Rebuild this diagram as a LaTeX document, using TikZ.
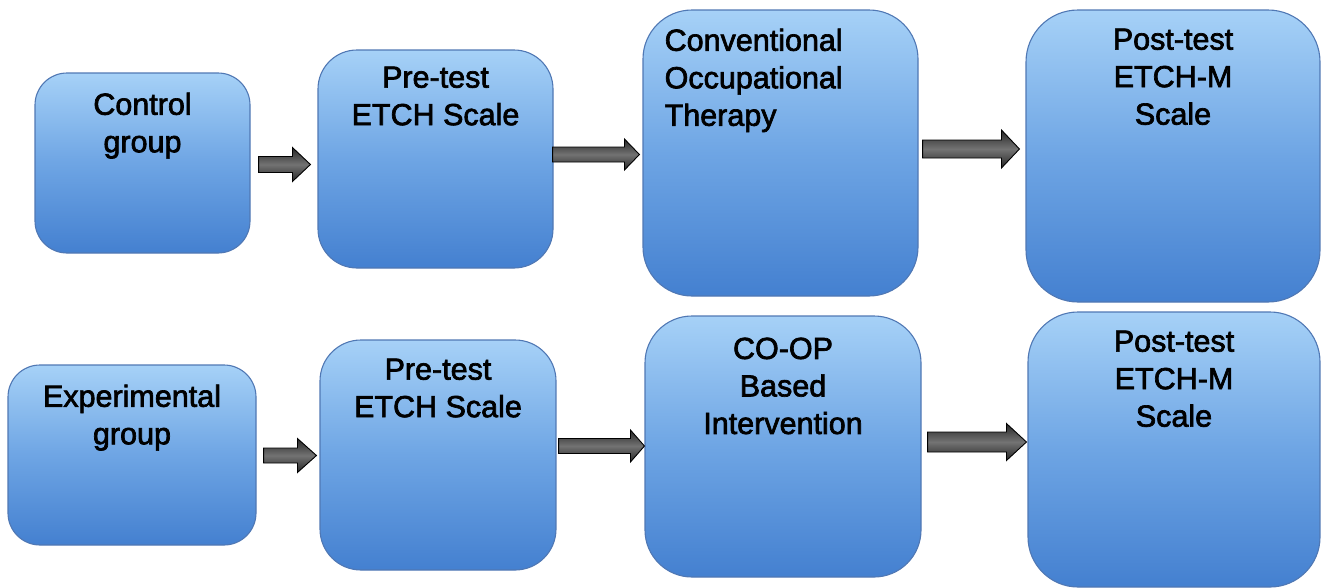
\documentclass[tikz,border=0pt]{standalone}
\usepackage{fontspec}
\setmainfont{Liberation Sans}[FakeBold=2.2]
\usetikzlibrary{calc}
\definecolor{boxtop}{RGB}{166,209,247}
\definecolor{boxmid}{RGB}{110,165,228}
\definecolor{boxbot}{RGB}{68,128,208}
\definecolor{boxedge}{RGB}{80,120,180}
\newcommand\blockarr[5]{%
  \path[blockarrow] ($(#1)+(0,-#3)$) -- ($(#2)+(-#5,-#3)$) -- ($(#2)+(-#5,-#4)$)
    -- (#2) -- ($(#2)+(-#5,#4)$) -- ($(#2)+(-#5,#3)$) -- ($(#1)+(0,#3)$) -- cycle;}
\begin{document}
\begin{tikzpicture}[x=1pt,y=-1pt,
  flowbox/.style={draw=boxedge, line width=1.1pt, inner sep=0pt,
    top color=boxtop, bottom color=boxbot, middle color=boxmid},
  txt/.style={inner sep=0pt, align=center, text=black,
    font={\fontsize{30.5}{37.5}\selectfont}},
  blockarrow/.style={draw=black, line width=0.9pt, line join=miter,
    top color=black!85, bottom color=black!85, middle color=black!55}]
\useasboundingbox (0,0) rectangle (1321,587);
% top row
\node[flowbox, minimum width=215, minimum height=180, rounded corners=32] (ctl) at (142.5,163) {};
\node[flowbox, minimum width=235, minimum height=218, rounded corners=39] (pre1) at (435.5,159) {};
\node[flowbox, minimum width=275, minimum height=286, rounded corners=49] (cot) at (780.5,153) {};
\node[flowbox, minimum width=294, minimum height=292, rounded corners=52] (post1) at (1173,156) {};
% bottom row
\node[flowbox, minimum width=248, minimum height=180, rounded corners=32] (exp) at (132,455) {};
\node[flowbox, minimum width=236, minimum height=230, rounded corners=41] (pre2) at (438,455) {};
\node[flowbox, minimum width=276, minimum height=261, rounded corners=47] (coop) at (783,446.5) {};
\node[flowbox, minimum width=292, minimum height=275, rounded corners=50] (post2) at (1174,449.5) {};
% texts
\node[txt, anchor=north] (ctlT) at ([yshift=-20]ctl.north) {Control\\group};
\node[txt, anchor=north] (pre1T) at ([yshift=-17]pre1.north) {Pre-test\\ETCH Scale};
\node[txt, anchor=north west, align=left] (cotT) at ([xshift=22,yshift=-19]cot.north west) {Conventional\\Occupational\\Therapy};
\node[txt, anchor=north] (post1T) at ([yshift=-19]post1.north) {Post-test\\ETCH-M\\Scale};
\node[txt, anchor=north] (expT) at ([yshift=-20]exp.north) {Experimental\\group};
\node[txt, anchor=north] (pre2T) at ([yshift=-19]pre2.north) {Pre-test\\ETCH Scale};
\node[txt, anchor=north] (coopT) at ([yshift=-22]coop.north) {CO-OP\\Based\\Intervention};
\node[txt, anchor=north] (post2T) at ([yshift=-19]post2.north) {Post-test\\ETCH-M\\Scale};
% arrow ends
\coordinate (a1s) at ([xshift=8,yshift=-1.5]ctl.east);
\coordinate (a1e) at ([xshift=-7,yshift=-5.5]pre1.west);
\coordinate (a2s) at ([xshift=-1,yshift=4.5]pre1.east);
\coordinate (a2e) at ([xshift=-3,yshift=-1.5]cot.west);
\coordinate (a3s) at ([xshift=4,yshift=4]cot.east);
\coordinate (a3e) at ([xshift=-6,yshift=7]post1.west);
\coordinate (a4s) at ([xshift=7,yshift=-0.5]exp.east);
\coordinate (a4e) at ([xshift=-3,yshift=-0.5]pre2.west);
\coordinate (a5s) at ([xshift=2,yshift=9]pre2.east);
\coordinate (a5e) at ([xshift=0,yshift=0.5]coop.west);
\coordinate (a6s) at ([xshift=6,yshift=4.5]coop.east);
\coordinate (a6e) at ([xshift=-1,yshift=7.5]post2.west);
\blockarr{a1s}{a1e}{8}{17}{18}
\blockarr{a2s}{a2e}{7.5}{15.5}{15}
\blockarr{a3s}{a3e}{9}{19}{18}
\blockarr{a4s}{a4e}{7.5}{17}{19}
\blockarr{a5s}{a5e}{7.5}{16}{14}
\blockarr{a6s}{a6e}{10}{18.5}{20}
\end{tikzpicture}
\end{document}
